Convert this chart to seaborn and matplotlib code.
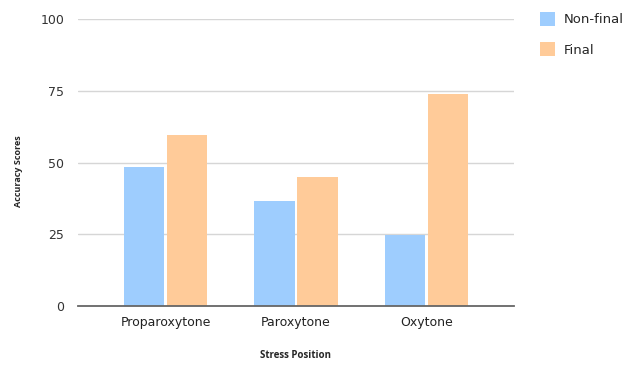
import matplotlib
matplotlib.use("Agg")
import matplotlib.pyplot as plt
import seaborn as sns
import pandas as pd
from matplotlib.patches import Patch

# Accuracy scores by stress position and syllable position
categories = ["Proparoxytone", "Paroxytone", "Oxytone"]
non_final = [48.5, 36.5, 24.8]
final = [59.7, 44.8, 73.8]
series = ["Non-final", "Final"]
y_ticks = [0, 25, 50, 75, 100]

colors = {"Non-final": "#9ECDFE", "Final": "#FFCB99"}

df = pd.DataFrame({
    "Stress Position": categories * 2,
    "Accuracy Scores": non_final + final,
    "Series": [series[0]] * len(categories) + [series[1]] * len(categories),
})

sns.set_theme(style="white")
plt.rcParams["font.family"] = ["DejaVu Sans"]

fig = plt.figure(figsize=(6.3, 3.65), dpi=100)
ax = fig.add_axes([78 / 630, 1 - 306 / 365, (514 - 78) / 630, (306 - 19) / 365])

sns.barplot(data=df, x="Stress Position", y="Accuracy Scores", hue="Series",
            hue_order=series, palette=colors, width=0.66, gap=0.06,
            saturation=1, legend=False, ax=ax, edgecolor="none")

ax.set_xlim(-0.67, 2.67)
ax.set_ylim(0, 100)
ax.set_yticks(y_ticks)
ax.yaxis.grid(True, color="#D6D6D6", linewidth=1)
ax.set_axisbelow(True)
for side in ["top", "right", "left"]:
    ax.spines[side].set_visible(False)
ax.spines["bottom"].set_color("#666666")
ax.spines["bottom"].set_linewidth(1.3)
ax.tick_params(axis="both", length=0)
ax.tick_params(axis="y", labelsize=9, labelcolor="#333333", pad=10)
ax.tick_params(axis="x", labelsize=9, labelcolor="#222222", pad=7)

ax.set_xlabel("Stress Position", fontsize=7, fontweight="bold", labelpad=15,
              fontfamily="Open Sans")
ax.set_ylabel("Accuracy Scores", fontsize=6.5, fontweight="bold",
              fontfamily="Open Sans")
ax.yaxis.set_label_coords(-0.127, 0.47)

handles = [Patch(facecolor=colors[s], edgecolor="none", label=s) for s in series]
fig.legend(handles=handles, loc="upper left", bbox_to_anchor=(535 / 630, 1 - 7 / 365),
           frameon=False, fontsize=9.5, handlelength=1.1, handleheight=1.2,
           handletextpad=0.65, labelspacing=1.2, borderaxespad=0)

fig.savefig("out.png", dpi=100)
